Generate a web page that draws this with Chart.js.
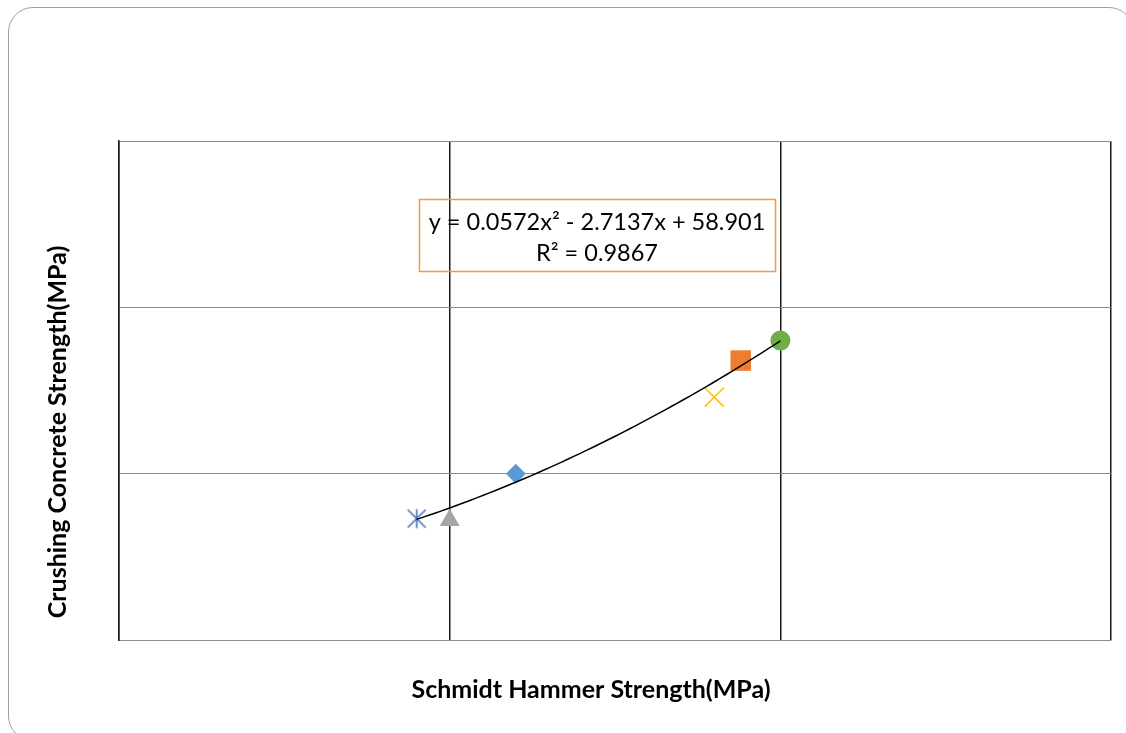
<!DOCTYPE html>
<html>
<head>
<meta charset="utf-8">
<title>Schmidt Hammer vs Crushing Strength</title>
<script src="https://cdn.jsdelivr.net/npm/chart.js@4.4.1/dist/chart.umd.min.js"></script>
<style>
  html, body { margin: 0; padding: 0; background: #fff; overflow: hidden; }
  #frame {
    position: absolute; left: 8px; top: 7px; width: 1126px; height: 734px;
    border: 1px solid #a0a0a0; border-radius: 25px; box-sizing: border-box;
  }
  #wrap { position: absolute; left: 0; top: 0; width: 1126px; height: 733px; }
</style>
</head>
<body>
<div id="frame"></div>
<div id="wrap"><canvas id="chart" width="1126" height="733"></canvas></div>
<script>
// test results, one point per specimen group
const schmidtStrength = [29.5, 30.0, 31.0, 34.0, 34.4, 35.0];
const crushingStrength = [28.65, 28.6, 30.0, 32.3, 33.4, 34.0];
const axisTicks = [25, 30, 35, 40];

// polynomial trendline: c0 + c1*x + c2*x^2
const trendCoef = [58.901, -2.7137, 0.0572];
const trendLabel = ["y = 0.0572x\u00b2 - 2.7137x + 58.901", "R\u00b2 = 0.9867"];

const xTitle = "Schmidt Hammer Strength(MPa)";
const yTitle = "Crushing Concrete Strength(MPa)";

// asterisk marker (vertical stroke + X)
function makeStar(color) {
  const c = document.createElement("canvas");
  c.width = 22; c.height = 22;
  const g = c.getContext("2d");
  g.strokeStyle = color;
  g.lineWidth = 1.6;
  g.beginPath();
  g.moveTo(11, 1.5); g.lineTo(11, 20.5);
  g.moveTo(2, 2); g.lineTo(20, 20);
  g.moveTo(20, 2); g.lineTo(2, 20);
  g.stroke();
  return c;
}

const markerStyles = [makeStar("#4472C4"), "triangle", "rectRot", "crossRot", "rect", "circle"];
const markerColors = ["#4472C4", "#A5A5A5", "#5B9BD5", "#FFC000", "#ED7D31", "#70AD47"];
const markerSizes = [11, 11.5, 10, 13.4, 14.5, 10];

const pointSets = schmidtStrength.map((x, i) => ({
  type: "scatter",
  label: "Group " + (i + 1),
  data: [{ x: x, y: crushingStrength[i] }],
  pointStyle: markerStyles[i],
  pointRadius: markerSizes[i],
  pointHoverRadius: markerSizes[i],
  backgroundColor: markerColors[i],
  borderColor: markerColors[i],
  borderWidth: markerStyles[i] === "crossRot" ? 1.5 : 0,
  order: 1
}));

// trend curve over the measured range
const trendPoints = [];
const xLo = Math.min(...schmidtStrength), xHi = Math.max(...schmidtStrength);
for (let k = 0; k <= 60; k++) {
  const x = xLo + (xHi - xLo) * k / 60;
  trendPoints.push({ x: x, y: trendCoef[0] + trendCoef[1] * x + trendCoef[2] * x * x });
}

const trendSet = {
  type: "scatter",
  label: "Poly. trend",
  data: trendPoints,
  showLine: true,
  borderColor: "#000",
  borderWidth: 1.5,
  pointRadius: 0,
  pointHoverRadius: 0,
  order: 0
};

const annotations = {
  id: "annotations",
  afterDraw(chart) {
    const ctx = chart.ctx;
    ctx.save();
    // equation box
    ctx.strokeStyle = "#F79646";
    ctx.lineWidth = 1.5;
    ctx.strokeRect(419.5, 199.5, 356, 72);
    ctx.fillStyle = "#000";
    ctx.font = "23.5px Lato";
    ctx.textAlign = "center";
    ctx.textBaseline = "middle";
    ctx.fillText(trendLabel[0], 597, 222);
    ctx.fillText(trendLabel[1], 597, 253);

    // axis titles
    ctx.font = "bold 25px Lato";
    ctx.fillText(xTitle, 591, 690);
    ctx.translate(58, 432);
    ctx.rotate(-Math.PI / 2);
    ctx.fillText(yTitle, 0, 0);
    ctx.restore();
  }
};

new Chart(document.getElementById("chart"), {
  type: "scatter",
  data: { datasets: [trendSet, ...pointSets] },
  options: {
    responsive: false,
    animation: false,
    layout: { padding: { left: 119, top: 141, right: 14, bottom: 93 } },
    plugins: { legend: { display: false }, tooltip: { enabled: false } },
    scales: {
      x: {
        min: axisTicks[0],
        max: axisTicks[axisTicks.length - 1],
        ticks: { display: false, stepSize: 5 },
        grid: { color: "#1a1a1a", lineWidth: 1.5, drawTicks: false },
        border: { color: "#8c8c8c", width: 1 }
      },
      y: {
        min: axisTicks[0],
        max: axisTicks[axisTicks.length - 1],
        ticks: { display: false, stepSize: 5 },
        grid: { color: "#8c8c8c", lineWidth: 1, drawTicks: false },
        border: { color: "#1a1a1a", width: 1.5 }
      }
    }
  },
  plugins: [annotations]
});
</script>
</body>
</html>
